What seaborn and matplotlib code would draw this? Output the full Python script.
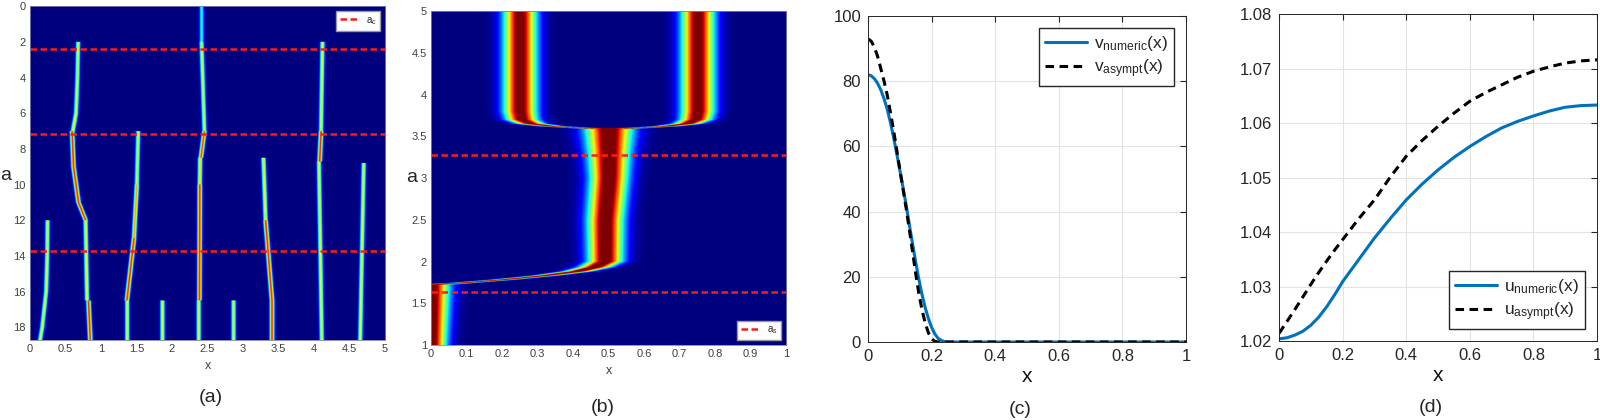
import numpy as np
import pandas as pd
import seaborn as sns
import matplotlib.pyplot as plt

# ---------- data ----------
# panel (a): ridge segments of the a-x map (a from, a to, x from, x to, peak value)
ridge_a0 = [12.0, 14.0, 16.0, 18.0,
            2.0, 4.0, 6.0, 7.0, 9.0, 11.0, 12.0, 16.5,
            7.0, 10.0, 13.0, 16.5,
            16.5,
            0.0, 2.0, 7.0, 8.5, 10.0, 16.5,
            16.5,
            8.5, 12.0, 16.5,
            2.0, 7.0, 8.7,
            8.8]
ridge_a1 = [14.0, 16.0, 18.0, 18.7,
            4.0, 6.0, 7.0, 9.0, 11.0, 12.0, 16.5, 18.7,
            10.0, 13.0, 16.5, 18.7,
            18.7,
            2.0, 7.0, 8.5, 10.0, 16.5, 18.7,
            18.7,
            12.0, 16.5, 18.7,
            7.0, 8.7, 18.7,
            18.7]
ridge_x0 = [0.245, 0.24, 0.225, 0.17,
            0.675, 0.665, 0.645, 0.59, 0.61, 0.68, 0.78, 0.82,
            1.52, 1.50, 1.46, 1.365,
            1.86,
            2.41, 2.41, 2.45, 2.39, 2.385, 2.37,
            2.86,
            3.28, 3.31, 3.40,
            4.11, 4.09, 4.06,
            4.69]
ridge_x1 = [0.24, 0.225, 0.17, 0.14,
            0.665, 0.645, 0.60, 0.61, 0.68, 0.78, 0.80, 0.845,
            1.50, 1.46, 1.36, 1.365,
            1.86,
            2.41, 2.45, 2.40, 2.385, 2.38, 2.37,
            2.86,
            3.31, 3.40, 3.40,
            4.09, 4.07, 4.10,
            4.64]
ridge_amp = [0.62, 0.62, 0.62, 0.62,
             0.60, 0.60, 0.65, 0.88, 0.88, 0.88, 0.65, 0.88,
             0.60, 0.75, 0.88, 0.62,
             0.62,
             0.40, 0.60, 0.85, 0.70, 0.88, 0.62,
             0.62,
             0.65, 0.88, 0.88,
             0.62, 0.88, 0.62,
             0.62]
a_c_lines = [2.4, 7.15, 13.7]

# panel (b): band centre lines and widths against a
band_a = [1.0, 1.70, 1.72, 1.74, 1.78, 1.83, 1.88, 1.93, 2.0, 2.5, 3.0, 3.3, 3.55, 3.60]
band_c = [0.0, 0.0, 0.0, 0.08, 0.20, 0.32, 0.41, 0.46, 0.49, 0.49, 0.50, 0.50, 0.50, 0.50]
band_w = [0.040, 0.048, 0.045, 0.028, 0.028, 0.030, 0.036, 0.042, 0.046, 0.048, 0.050, 0.055, 0.062, 0.062]
split_a = [3.58, 3.60, 3.62, 3.65, 3.70, 3.80, 5.0]
split_c = [0.50, 0.42, 0.34, 0.28, 0.255, 0.25, 0.25]
split_w = [0.026, 0.028, 0.030, 0.036, 0.042, 0.044, 0.044]
a_s_lines = [1.64, 3.28]

# panel (c)
vx = [0, 0.01, 0.02, 0.03, 0.04, 0.05, 0.06, 0.07, 0.08, 0.09, 0.10, 0.11, 0.12, 0.13,
      0.14, 0.15, 0.16, 0.17, 0.18, 0.19, 0.20, 0.21, 0.22, 0.23, 0.24, 0.25, 0.26,
      0.3, 0.4, 0.5, 0.6, 0.7, 0.8, 0.9, 1.0]
v_numeric = [82, 81.7, 80.8, 79.4, 77.4, 74.8, 71.6, 67.6, 63, 58, 52.8, 47.5, 42, 36,
             30.2, 24.5, 19.2, 14.5, 10.5, 7.2, 4.5, 2.5, 1.2, 0.5, 0.15, 0, 0,
             0, 0, 0, 0, 0, 0, 0, 0]
v_asympt = [93, 92.3, 90.5, 87.7, 84, 80.2, 76, 70.8, 65.2, 59.2, 53, 47, 41, 34.5,
            27.8, 21, 14.8, 9.8, 5.8, 2.8, 1.0, 0.2, 0, 0, 0, 0, 0,
            0, 0, 0, 0, 0, 0, 0, 0]

# panel (d)
ux = [0, 0.025, 0.05, 0.075, 0.1, 0.125, 0.15, 0.175, 0.2, 0.25, 0.3, 0.35, 0.4, 0.45, 0.5,
      0.55, 0.6, 0.65, 0.7, 0.75, 0.8, 0.85, 0.9, 0.95, 1.0]
u_numeric = [1.0204, 1.0206, 1.0211, 1.0218, 1.0229, 1.0244, 1.0263, 1.0285, 1.0309, 1.0349,
             1.0389, 1.0425, 1.0459, 1.0488, 1.0514,
             1.0537, 1.0557, 1.0575, 1.0591, 1.0603, 1.0613, 1.0622, 1.0629, 1.0632, 1.0633]
u_asympt = [1.0214, 1.0236, 1.0258, 1.0281, 1.0304, 1.0326, 1.0347, 1.0367, 1.0386, 1.0424,
            1.0459, 1.0501, 1.0539, 1.0568, 1.0594,
            1.0618, 1.0640, 1.0656, 1.0670, 1.0684, 1.0695, 1.0703, 1.0710, 1.0714, 1.0716]

# ---------- style ----------
sns.set_style('white')
plt.rcParams['font.family'] = ['Liberation Sans', 'DejaVu Sans']
plt.rcParams['mathtext.default'] = 'regular'

fig = plt.figure(figsize=(16, 4.2), dpi=100)
ax_a = fig.add_axes([0.01875, 0.1905, 0.2219, 0.795])
ax_b = fig.add_axes([0.2694, 0.1786, 0.2219, 0.795])
ax_c = fig.add_axes([0.5425, 0.1857, 0.19875, 0.776])
ax_d = fig.add_axes([0.7994, 0.188, 0.19875, 0.7786])

red_dash = dict(color='#ff1a1a', lw=1.8, dashes=(2.6, 1.4))

# ---------- (a) ----------
A = np.linspace(0, 18.7, 700)
X = np.linspace(0, 5, 1100)
field_a = np.zeros((len(A), len(X)))
for a0, a1, x0, x1, amp in zip(ridge_a0, ridge_a1, ridge_x0, ridge_x1, ridge_amp):
    rows = np.where((A >= a0) & (A <= a1))[0]
    for r in rows:
        c = x0 + (x1 - x0) * (A[r] - a0) / (a1 - a0)
        field_a[r] = np.maximum(field_a[r], amp * np.exp(-((X - c) / 0.031) ** 2))
ax_a.imshow(field_a, extent=[0, 5, 18.7, 0], origin='upper', aspect='auto',
            cmap='jet', vmin=0, vmax=1)
for i, yv in enumerate(a_c_lines):
    ax_a.axhline(yv, label='a$_c$' if i == 0 else None, **red_dash)
ax_a.set_xlim(0, 5)
ax_a.set_ylim(18.7, 0)
ax_a.set_xticks(np.arange(0, 5.01, 0.5))
ax_a.set_xticklabels(['0', '0.5', '1', '1.5', '2', '2.5', '3', '3.5', '4', '4.5', '5'])
ax_a.set_yticks(np.arange(0, 18.1, 2))
ax_a.set_yticklabels([str(v) for v in range(0, 19, 2)])
ax_a.set_xlabel('x', fontsize=9, color='#404040', labelpad=4)
ax_a.legend(loc='upper right', fontsize=7, handlelength=1.8, fancybox=False,
            framealpha=1, edgecolor='#999999', borderpad=0.4)

# ---------- (b) ----------
B = np.linspace(1, 5, 900)
XB = np.linspace(0, 1, 700)
field_b = np.zeros((len(B), len(XB)))
for r, av in enumerate(B):
    if av <= 3.60:
        c = np.interp(av, band_a, band_c)
        w = np.interp(av, band_a, band_w)
        field_b[r] = np.maximum(field_b[r], 1.1 * np.exp(-((XB - c) / w) ** 2))
    if av >= 3.58:
        c = np.interp(av, split_a, split_c)
        w = np.interp(av, split_a, split_w)
        field_b[r] = np.maximum(field_b[r], 1.06 * np.exp(-((XB - c) / w) ** 2))
        field_b[r] = np.maximum(field_b[r], 1.06 * np.exp(-((XB - (1 - c)) / w) ** 2))
ax_b.imshow(np.clip(field_b, 0, 1), extent=[0, 1, 1, 5], origin='lower', aspect='auto',
            cmap='jet', vmin=0, vmax=1)
for i, yv in enumerate(a_s_lines):
    ax_b.axhline(yv, label='a$_s$' if i == 0 else None, **red_dash)
ax_b.set_xlim(0, 1)
ax_b.set_ylim(1, 5)
ax_b.set_xticks(np.arange(0, 1.01, 0.1))
ax_b.set_xticklabels(['0', '0.1', '0.2', '0.3', '0.4', '0.5', '0.6', '0.7', '0.8', '0.9', '1'])
ax_b.set_yticks(np.arange(1, 5.01, 0.5))
ax_b.set_yticklabels(['1', '1.5', '2', '2.5', '3', '3.5', '4', '4.5', '5'])
ax_b.set_xlabel('x', fontsize=9, color='#404040', labelpad=4)
ax_b.legend(loc='lower right', fontsize=7, handlelength=1.8, fancybox=False,
            framealpha=1, edgecolor='#999999', borderpad=0.4)

for ax in (ax_a, ax_b):
    ax.tick_params(labelsize=8, labelcolor='#404040', length=0, pad=3)
    for s in ax.spines.values():
        s.set_color('#8080b0')
        s.set_linewidth(0.6)

# y labels "a" of the two maps
fig.text(6 / 1600, 1 - 175 / 420, 'a', fontsize=14, ha='center', va='center')
fig.text(412 / 1600, 1 - 177 / 420, 'a', fontsize=14, ha='center', va='center')

# ---------- (c) ----------
df_c = pd.DataFrame({'x': vx, 'num': v_numeric, 'asy': v_asympt})
sns.lineplot(data=df_c, x='x', y='num', ax=ax_c, color='#0072BD', lw=2.2,
             label='v$_{numeric}$(x)')
sns.lineplot(data=df_c, x='x', y='asy', ax=ax_c, color='black', lw=2.2,
             linestyle=(0, (2.8, 1.8)), label='v$_{asympt}$(x)')
ax_c.set_xlim(0, 1)
ax_c.set_ylim(0, 100)
ax_c.set_xticks(np.arange(0, 1.01, 0.2))
ax_c.set_xticklabels(['0', '0.2', '0.4', '0.6', '0.8', '1'])
ax_c.set_yticks(np.arange(0, 101, 20))
ax_c.set_ylabel('')
ax_c.legend(loc='upper right', fontsize=12.5, handlelength=2.4, fancybox=False,
            framealpha=1, edgecolor='#262626', borderpad=0.35, labelspacing=0.25,
            handletextpad=0.4, borderaxespad=0.7)

# ---------- (d) ----------
df_d = pd.DataFrame({'x': ux, 'num': u_numeric, 'asy': u_asympt})
sns.lineplot(data=df_d, x='x', y='num', ax=ax_d, color='#0072BD', lw=2.2,
             label='u$_{numeric}$(x)')
sns.lineplot(data=df_d, x='x', y='asy', ax=ax_d, color='black', lw=2.2,
             linestyle=(0, (2.8, 1.8)), label='u$_{asympt}$(x)')
ax_d.set_xlim(0, 1)
ax_d.set_ylim(1.02, 1.08)
ax_d.set_xticks(np.arange(0, 1.01, 0.2))
ax_d.set_xticklabels(['0', '0.2', '0.4', '0.6', '0.8', '1'])
ax_d.set_yticks(np.arange(1.02, 1.0801, 0.01))
ax_d.set_yticklabels(['1.02', '1.03', '1.04', '1.05', '1.06', '1.07', '1.08'])
ax_d.set_ylabel('')
ax_d.legend(loc='lower right', fontsize=12.5, handlelength=2.4, fancybox=False,
            framealpha=1, edgecolor='#262626', borderpad=0.35, labelspacing=0.25,
            handletextpad=0.4, borderaxespad=0.7)

for ax in (ax_c, ax_d):
    ax.grid(True, color='#e3e3e3', lw=0.8)
    ax.set_axisbelow(True)
    ax.tick_params(labelsize=12, labelcolor='#262626', direction='in', length=4,
                   top=True, right=True, color='#262626', pad=5)
    ax.set_xlabel('x', fontsize=15, color='#111111', labelpad=2)
    for s in ax.spines.values():
        s.set_color('#262626')
        s.set_linewidth(0.7)

# panel letters
for txt, xp, yp in [('(a)', 211, 397), ('(b)', 603, 408), ('(c)', 1020, 410), ('(d)', 1431, 407)]:
    fig.text(xp / 1600, 1 - yp / 420, txt, fontsize=14, ha='center', va='center')

fig.savefig('out.png', dpi=100)
